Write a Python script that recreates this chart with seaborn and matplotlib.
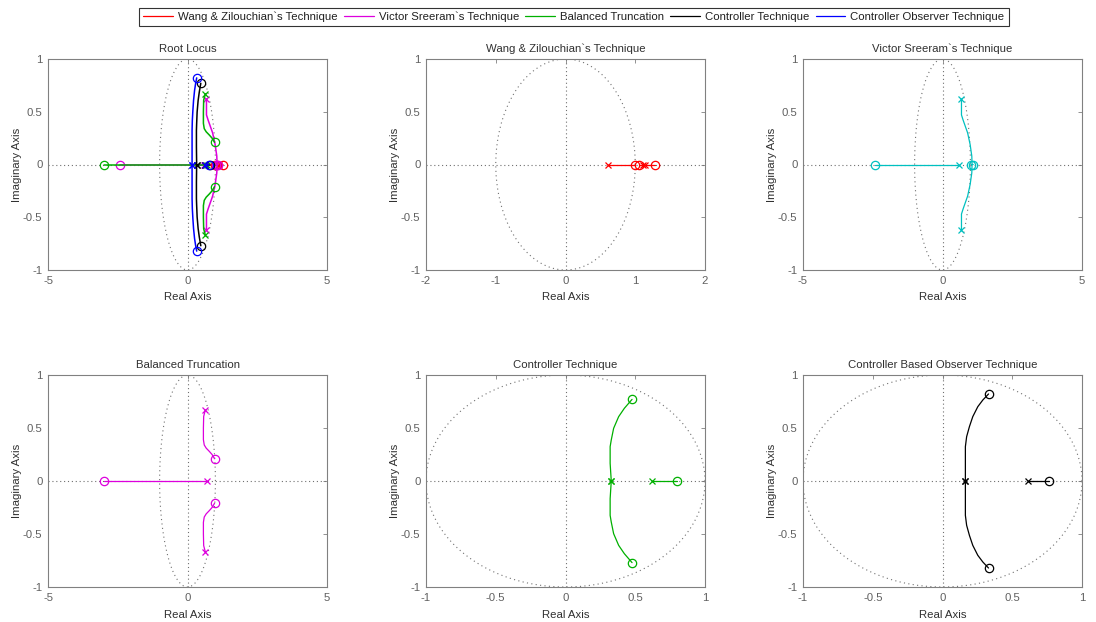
import numpy as np
import matplotlib
matplotlib.use("Agg")
import matplotlib.pyplot as plt
from matplotlib.lines import Line2D
import seaborn as sns

# ---------------- data ----------------
# Wang & Zilouchian's technique
wang_poles_x = [0.61, 1.11, 1.14]
wang_poles_y = [0.0, 0.0, 0.0]
wang_zeros_x = [1.00, 1.05, 1.285]
wang_zeros_y = [0.0, 0.0, 0.0]
wang_branches = [
    ([0.61, 1.00], [0.0, 0.0]),
    ([1.11, 1.05], [0.0, 0.0]),
    ([1.14, 1.285], [0.0, 0.0]),
]

# Victor Sreeram's technique
vic_poles_x = [0.59, 0.68, 0.68]
vic_poles_y = [0.0, 0.62, -0.62]
vic_zeros_x = [-2.42, 1.03, 1.10]
vic_zeros_y = [0.0, 0.0, 0.0]
vic_up_x = [0.68, 0.68, 0.74, 0.90, 0.99, 1.05, 1.06, 1.10]
vic_up_y = [0.62, 0.47, 0.42, 0.30, 0.19, 0.08, 0.0, 0.0]
vic_lo_x = [0.68, 0.68, 0.74, 0.90, 0.99, 1.05, 1.06, 1.03]
vic_lo_y = [-0.62, -0.47, -0.42, -0.30, -0.19, -0.08, 0.0, 0.0]
vic_branches = [
    ([0.59, -2.42], [0.0, 0.0]),
    (vic_up_x, vic_up_y),
    (vic_lo_x, vic_lo_y),
]

# Balanced truncation
bal_poles_x = [0.70, 0.64, 0.64]
bal_poles_y = [0.0, 0.67, -0.67]
bal_zeros_x = [-2.99, 0.97, 0.97]
bal_zeros_y = [0.0, 0.21, -0.21]
bal_up_x = [0.64, 0.58, 0.57, 0.57, 0.60, 0.67, 0.78, 0.88, 0.97]
bal_up_y = [0.67, 0.61, 0.50, 0.39, 0.34, 0.31, 0.28, 0.25, 0.21]
bal_lo_y = [-v for v in bal_up_y]
bal_branches = [
    ([0.70, -2.99], [0.0, 0.0]),
    (bal_up_x, bal_up_y),
    (bal_up_x, bal_lo_y),
]

# Controller technique
ctl_poles_x = [0.328, 0.328, 0.617]
ctl_poles_y = [0.0, 0.0, 0.0]
ctl_zeros_x = [0.477, 0.477, 0.80]
ctl_zeros_y = [0.77, -0.77, 0.0]
ctl_up_x = [0.328, 0.320, 0.320, 0.328, 0.345, 0.381, 0.422, 0.477]
ctl_up_y = [0.0, 0.167, 0.324, 0.387, 0.497, 0.607, 0.686, 0.770]
ctl_lo_y = [-v for v in ctl_up_y]
ctl_branches = [
    ([0.617, 0.80], [0.0, 0.0]),
    (ctl_up_x, ctl_up_y),
    (ctl_up_x, ctl_lo_y),
]

# Controller (based) observer technique
obs_poles_x = [0.164, 0.164, 0.614]
obs_poles_y = [0.0, 0.0, 0.0]
obs_zeros_x = [0.33, 0.33, 0.766]
obs_zeros_y = [0.82, -0.82, 0.0]
obs_up_x = [0.164, 0.164, 0.173, 0.193, 0.217, 0.253, 0.289, 0.330]
obs_up_y = [0.0, 0.324, 0.418, 0.513, 0.607, 0.701, 0.764, 0.821]
obs_lo_y = [-v for v in obs_up_y]
obs_branches = [
    ([0.614, 0.766], [0.0, 0.0]),
    (obs_up_x, obs_up_y),
    (obs_up_x, obs_lo_y),
]

legend_labels = ["Wang & Zilouchian`s Technique", "Victor Sreeram`s Technique",
                 "Balanced Truncation", "Controller Technique",
                 "Controller Observer Technique"]
overview_colors = ["#ff0000", "#dd00dd", "#00b000", "#000000", "#0000ff"]

titles = ["Root Locus", "Wang & Zilouchian`s Technique", "Victor Sreeram`s Technique",
          "Balanced Truncation", "Controller Technique",
          "Controller Based Observer Technique"]
xticks_wide = [-5, 0, 5]
xticks_mid = [-2, -1, 0, 1, 2]
xticks_unit = [-1, -0.5, 0, 0.5, 1]
yticks = [-1, -0.5, 0, 0.5, 1]

# ---------------- style ----------------
sns.set_theme(style="white")
plt.rcParams["font.family"] = ["Liberation Sans", "DejaVu Sans"]
FS = 8.2
plt.rcParams["font.size"] = FS
plt.rcParams["axes.edgecolor"] = "#808080"
plt.rcParams["axes.linewidth"] = 0.8

TEXT = "#303030"
TICKC = "#606060"

fig = plt.figure(figsize=(10.96, 6.22), dpi=100)
W, H = 1096.0, 622.0
lefts = [48, 426, 803]
width = 279
rows = [(59, 270), (375, 587)]
axes = []
for r, (top, bot) in enumerate(rows):
    for c, l in enumerate(lefts):
        ax = fig.add_axes([l / W, (H - bot) / H, width / W, (bot - top) / H])
        axes.append(ax)


def fmt(v):
    if float(v).is_integer():
        return str(int(v))
    return ("%g" % v)


def decorate(ax, title, xlim, xticks):
    ax.set_xlim(*xlim)
    ax.set_ylim(-1, 1)
    ax.set_xticks(xticks)
    ax.set_xticklabels([fmt(v) for v in xticks])
    ax.set_yticks(yticks)
    ax.set_yticklabels([fmt(v) for v in yticks])
    ax.tick_params(direction="in", length=3, width=0.6, colors="#808080",
                   labelcolor=TICKC, labelsize=FS, top=True, right=True,
                   pad=4)
    ax.set_title(title, fontsize=FS, color=TEXT, pad=5)
    ax.set_xlabel("Real Axis", fontsize=FS, color=TEXT, labelpad=5)
    ax.set_ylabel("Imaginary Axis", fontsize=FS, color=TEXT, labelpad=1)
    for s in ax.spines.values():
        s.set_visible(True)
        s.set_color("#808080")
    # unit circle and axis lines (z-plane grid)
    t = np.linspace(0, 2 * np.pi, 400)
    ax.plot(np.cos(t), np.sin(t), linestyle=(0, (1, 3)), color="#707070",
            lw=0.8, zorder=1)
    ax.axhline(0, linestyle=(0, (1, 2.5)), color="#707070", lw=0.8, zorder=1)
    ax.axvline(0, linestyle=(0, (1, 2.5)), color="#707070", lw=0.8, zorder=1)


def draw(ax, branches, px, py, zx, zy, color, lw=0.9, z=3):
    for bx, by in branches:
        straight = len(bx) == 2
        sns.lineplot(x=bx, y=by, ax=ax, color=color, lw=lw, sort=False,
                     estimator=None, errorbar=None, zorder=z,
                     snap=True if straight else False)
    sns.lineplot(x=zx, y=zy, ax=ax, color=color, linestyle="", marker="o",
                 markersize=6, markerfacecolor="none", markeredgecolor=color,
                 markeredgewidth=0.9, sort=False, estimator=None,
                 errorbar=None, zorder=z + 1)
    sns.lineplot(x=px, y=py, ax=ax, color=color, linestyle="", marker="x",
                 markersize=4, markeredgecolor=color, markeredgewidth=0.9,
                 sort=False, estimator=None, errorbar=None, zorder=z + 1)


datasets = [
    (wang_branches, wang_poles_x, wang_poles_y, wang_zeros_x, wang_zeros_y),
    (vic_branches, vic_poles_x, vic_poles_y, vic_zeros_x, vic_zeros_y),
    (bal_branches, bal_poles_x, bal_poles_y, bal_zeros_x, bal_zeros_y),
    (ctl_branches, ctl_poles_x, ctl_poles_y, ctl_zeros_x, ctl_zeros_y),
    (obs_branches, obs_poles_x, obs_poles_y, obs_zeros_x, obs_zeros_y),
]
single_colors = ["#ff0000", "#00c0c0", "#dd00dd", "#00b000", "#000000"]
xlims = [(-5, 5), (-2, 2), (-5, 5), (-5, 5), (-1, 1), (-1, 1)]
xticks_all = [xticks_wide, xticks_mid, xticks_wide, xticks_wide, xticks_unit, xticks_unit]

# overview (each technique stacked above the previous one)
for k, (d, col) in enumerate(zip(datasets, overview_colors)):
    draw(axes[0], *d, col, lw=1.1, z=3 + 2 * k)
for i, (d, col) in enumerate(zip(datasets, single_colors)):
    draw(axes[i + 1], *d, col)

for ax, t, xl, xt in zip(axes, titles, xlims, xticks_all):
    decorate(ax, t, xl, xt)

handles = [Line2D([0], [0], color=c, lw=0.9) for c in overview_colors]
leg = fig.legend(handles, legend_labels, loc="center", ncol=5,
                 bbox_to_anchor=(574 / W, (H - 17) / H), frameon=True,
                 fancybox=False, edgecolor="#000000", fontsize=FS,
                 handlelength=2.6, handletextpad=0.45, columnspacing=0.55,
                 borderpad=0.35, borderaxespad=0)
leg.get_frame().set_linewidth(0.8)
for txt in leg.get_texts():
    txt.set_color("#202020")

fig.savefig("out.png", dpi=100)
